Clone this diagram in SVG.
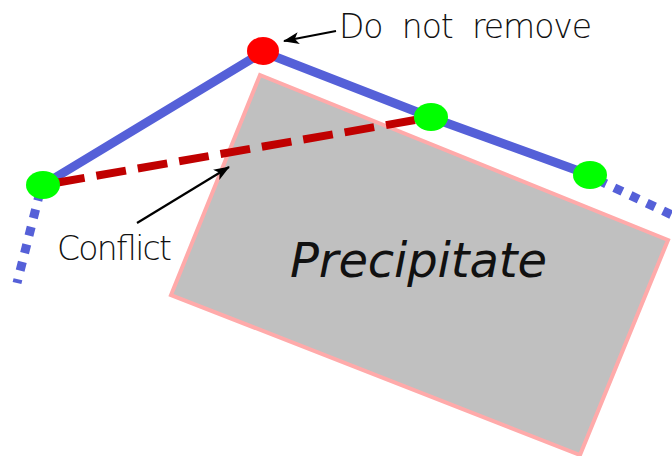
<svg xmlns="http://www.w3.org/2000/svg" width="672" height="456" viewBox="0 0 672 456">
<defs>
<marker id="ah" viewBox="0 0 16 12" refX="15" refY="6" markerWidth="16" markerHeight="12" markerUnits="userSpaceOnUse" orient="auto">
<path d="M0,0 L16,6 L0,12 L4,6 Z" fill="#000"/>
</marker>
<style>
.txt{font-family:"DejaVu Sans","Liberation Sans",Arial,sans-serif;font-weight:200;fill:#111}
.blue{fill:none;stroke:#5560d8;stroke-width:9}
.dot{stroke-dasharray:9 9}
.green{fill:#00ff00}
.ptr{stroke:#000;stroke-width:2.2;fill:none}
</style>
</defs>
<rect width="672" height="456" fill="#fff"/>
<g id="precipitate">
<polygon points="260,75 668,240 580,455 171,295" fill="#c0c0c0" stroke="#ffaaaa" stroke-width="4"/>
<text class="txt" x="290" y="277" font-size="48" font-style="italic" textLength="257">Precipitate</text>
</g>
<g id="connectors">
<polyline class="blue" points="43,185 263,52 430,117 590,175"/>
<line class="blue dot" x1="40" y1="192" x2="17" y2="283"/>
<line class="blue dot" x1="598" y1="180" x2="672" y2="215"/>
<line x1="55" y1="183" x2="415" y2="120" stroke="#c00000" stroke-width="8" stroke-dasharray="30 12"/>
<line class="ptr" x1="137" y1="223" x2="229" y2="167" marker-end="url(#ah)"/>
<line class="ptr" x1="336" y1="31" x2="284" y2="41" marker-end="url(#ah)"/>
</g>
<g id="node-red"><ellipse cx="263" cy="51" rx="16" ry="14" fill="#ff0000"/></g>
<g id="node-g1"><ellipse class="green" cx="43" cy="185" rx="17" ry="14"/></g>
<g id="node-g2"><ellipse class="green" cx="431" cy="117" rx="17" ry="14"/></g>
<g id="node-g3"><ellipse class="green" cx="590" cy="175" rx="17" ry="14"/></g>
<g id="label-remove"><text class="txt" x="339" y="38" font-size="33" textLength="253" word-spacing="10">Do not remove</text></g>
<g id="label-conflict"><text class="txt" x="57" y="260" font-size="33" textLength="115">Conflict</text></g>
</svg>
